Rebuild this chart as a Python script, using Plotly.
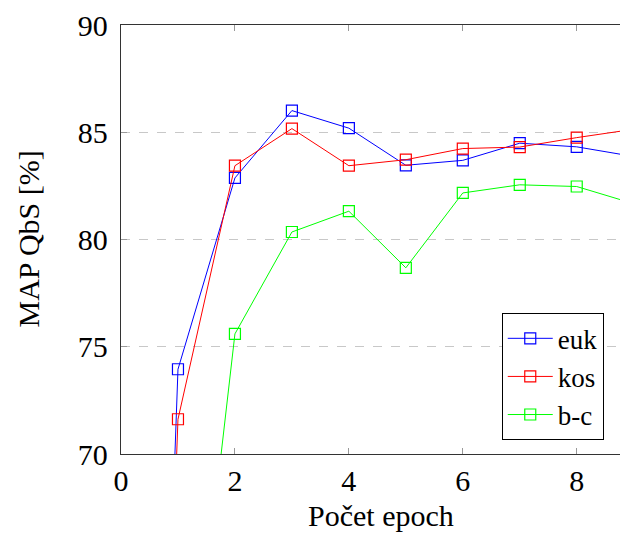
import plotly.graph_objects as go

epochs = [0, 1, 2, 3, 4, 5, 6, 7, 8, 9]
euk = [0, 73.95, 82.87, 86.01, 85.19, 83.46, 83.69, 84.49, 84.32, 83.87]
kos = [0, 71.62, 83.44, 85.17, 83.44, 83.72, 84.24, 84.31, 84.75, 85.14]
bc = [0, 52.5, 75.6, 80.35, 81.32, 78.68, 82.17, 82.55, 82.47, 81.67]
series_names = ["euk", "kos", "b-c"]
series_colors = ["#0000ff", "#ff0000", "#00ff00"]
x_ticks = [0, 2, 4, 6, 8]
y_ticks = [70, 75, 80, 85, 90]
x_title = "Počet epoch"
y_title = "MAP QbS [%]"

FONT = "Liberation Serif"
FS = 30

fig = go.Figure()
for name, vals, col in zip(series_names, [euk, kos, bc], series_colors):
    fig.add_trace(go.Scatter(
        x=epochs, y=vals, name=name, mode="lines+markers",
        line=dict(color=col, width=1),
        marker=dict(symbol="square-open", size=11, color=col, line=dict(width=1.2, color=col)),
    ))

fig.update_layout(
    width=620, height=525,
    margin=dict(l=113, r=0, t=15, b=79),
    plot_bgcolor="white", paper_bgcolor="white",
    font=dict(family=FONT, size=FS, color="black"),
    showlegend=True,
    legend=dict(
        x=0.751, y=0.032, xanchor="left", yanchor="bottom",
        bordercolor="black", borderwidth=1, bgcolor="white",
        font=dict(family=FONT, size=27), itemwidth=45,
        tracegroupgap=0,
    ),
    xaxis=dict(
        range=[0, 8.9], tickvals=x_ticks, ticktext=[str(v) for v in x_ticks],
        showgrid=False, zeroline=False,
        showline=True, linecolor="#333333", linewidth=1.3, mirror="ticks",
        ticks="inside", ticklen=6, tickcolor="#999999", tickwidth=1.3,
        tickfont=dict(size=FS), ticklabelstandoff=0, ticklabeloverflow="allow",
    ),
    yaxis=dict(
        range=[70, 90], tickvals=y_ticks, ticktext=[str(v) for v in y_ticks],
        showgrid=True, gridcolor="#c8c8c8", griddash="dash", gridwidth=1,
        zeroline=False,
        showline=True, linecolor="#333333", linewidth=1.3, mirror=False,
        ticks="inside", ticklen=6, tickcolor="#999999", tickwidth=1.3,
        tickfont=dict(size=FS), ticklabelstandoff=6, ticklabeloverflow="allow",
    ),
    annotations=[
        dict(text=x_title, xref="paper", yref="paper", x=0.513, y=0,
             xanchor="center", yanchor="middle", yshift=-61, showarrow=False,
             font=dict(size=FS)),
        dict(text=y_title, xref="paper", yref="paper", x=0, y=0.5,
             xanchor="center", yanchor="middle", xshift=-93, textangle=-90,
             showarrow=False, font=dict(size=FS)),
    ],
)

fig.write_html("out.html")
